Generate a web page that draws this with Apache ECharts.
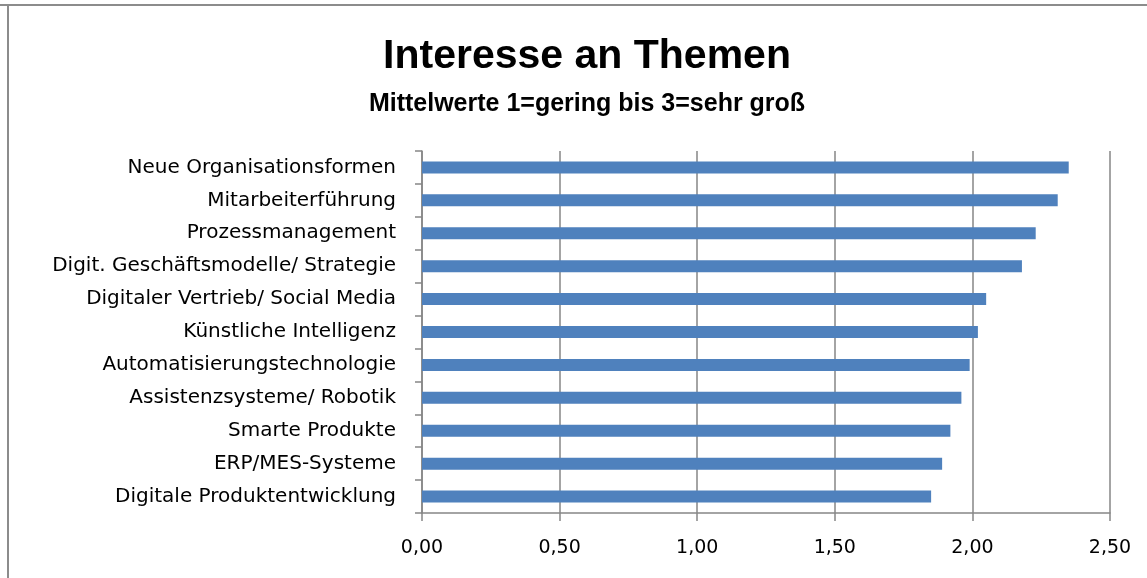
<!DOCTYPE html>
<html>
<head>
<meta charset="utf-8">
<script src="https://cdn.jsdelivr.net/npm/echarts@6/dist/echarts.min.js"></script>
<style>
    html, body { margin: 0; padding: 0; background: #fff; }
    #main { width: 1147px; height: 578px; }
</style>
</head>
<body>
<div id="main"></div>
<script>
    // Themen von oben nach unten
    var themen = [
        'Neue Organisationsformen',
        'Mitarbeiterführung',
        'Prozessmanagement',
        'Digit. Geschäftsmodelle/ Strategie',
        'Digitaler Vertrieb/ Social Media',
        'Künstliche Intelligenz',
        'Automatisierungstechnologie',
        'Assistenzsysteme/ Robotik',
        'Smarte Produkte',
        'ERP/MES-Systeme',
        'Digitale Produktentwicklung'
    ];
    var mittelwerte = [2.35, 2.31, 2.23, 2.18, 2.05, 2.02, 1.99, 1.96, 1.92, 1.89, 1.85];

    var myChart = echarts.init(document.getElementById('main'));

    var option = {
        backgroundColor: '#fff',
        animation: false,
        graphic: [
            { type: 'line', shape: { x1: 0, y1: 5, x2: 1147, y2: 5 }, style: { stroke: '#8c8c8c', lineWidth: 2 } },
            { type: 'line', shape: { x1: 8, y1: 5, x2: 8, y2: 578 }, style: { stroke: '#8c8c8c', lineWidth: 2 } },
            {
                type: 'text', x: 587, y: 57,
                style: { text: 'Interesse an Themen', align: 'center', verticalAlign: 'middle',
                    font: 'bold 41px "Liberation Sans"', fill: '#000' }
            },
            {
                type: 'text', x: 587, y: 104,
                style: { text: 'Mittelwerte 1=gering bis 3=sehr groß', align: 'center', verticalAlign: 'middle',
                    font: 'bold 25px "Liberation Sans"', fill: '#000' }
            }
        ],
        grid: {
            left: 422,
            right: 37,
            top: 151,
            bottom: 65
        },
        xAxis: {
            type: 'value',
            min: 0,
            max: 2.5,
            interval: 0.5,
            axisLine: { show: true, lineStyle: { color: '#868686', width: 1.5 } },
            axisTick: { show: true, length: 8, lineStyle: { color: '#868686', width: 1.5 } },
            splitLine: { show: true, lineStyle: { color: '#868686', width: 1.5 } },
            axisLabel: {
                margin: 26,
                fontFamily: 'DejaVu Sans',
                fontSize: 19,
                color: '#000',
                formatter: function (v) { return v.toFixed(2).replace('.', ','); }
            }
        },
        yAxis: {
            type: 'category',
            inverse: true,
            data: themen,
            axisLine: { show: true, lineStyle: { color: '#868686', width: 1.5 } },
            axisTick: { show: true, length: 7, lineStyle: { color: '#868686', width: 1.5 } },
            axisLabel: {
                margin: 26,
                fontFamily: 'DejaVu Sans',
                fontSize: 20,
                color: '#000'
            }
        },
        series: [
            {
                type: 'bar',
                data: mittelwerte,
                barWidth: 12,
                itemStyle: { color: '#4F81BD' }
            }
        ]
    };
    myChart.setOption(option);
</script>
</body>
</html>
